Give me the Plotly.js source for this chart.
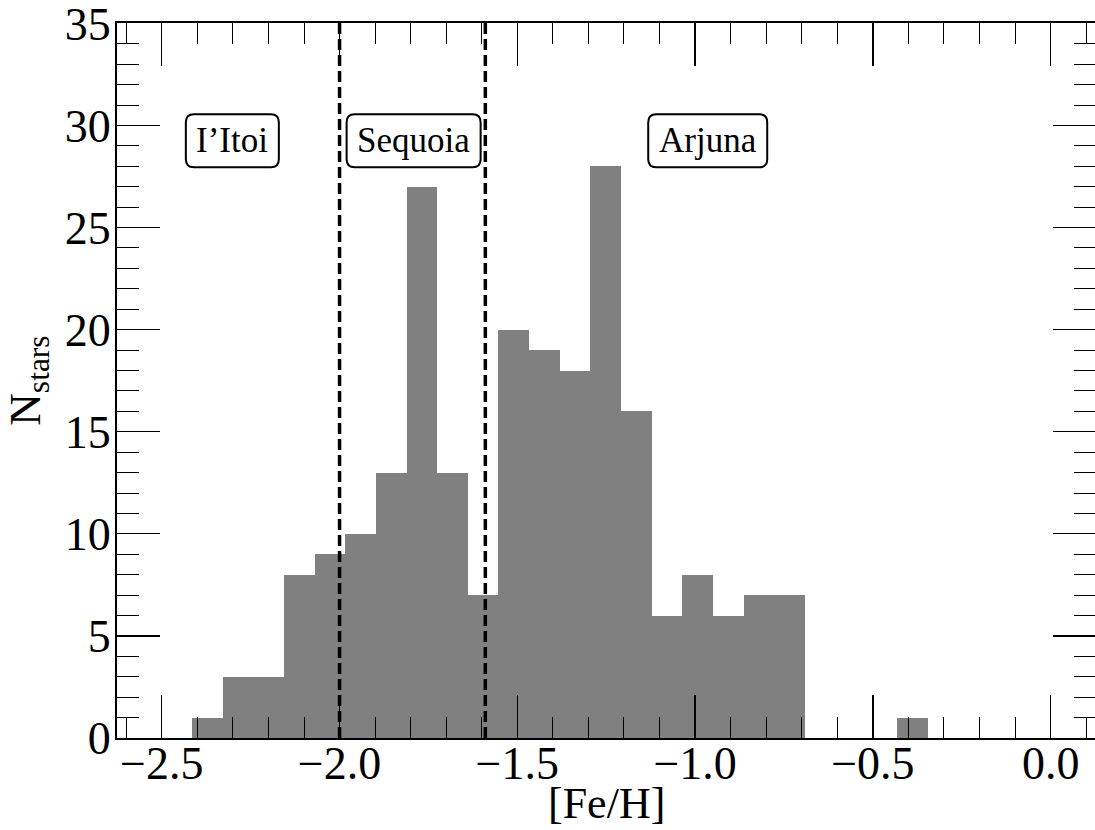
<!DOCTYPE html>
<html>
<head>
<meta charset="utf-8">
<script src="https://cdn.plot.ly/plotly-3.0.1.min.js"></script>
<style>
html, body { margin: 0; padding: 0; overflow: hidden; background: #fff; }
#chart { width: 1100px; height: 830px; }
</style>
</head>
<body>
<div id="chart"></div>
<script>
// Histogram of [Fe/H]
const binStart = -2.415;
const binWidth = 0.0862;
const counts = [1, 3, 3, 8, 9, 10, 13, 27, 13, 7, 20, 19, 18, 28, 16, 6, 8, 6, 7, 7, 0, 0, 0, 1];

// Boundaries between groups (dashed lines)
const boundaries = [-2.0, -1.59];

// Group labels
const groupLabels = ["I\u2019Itoi", "Sequoia", "Arjuna"];
const groupLabelX = [-2.3016, -1.7917, -0.9645];
const groupLabelY = [29.25, 29.25, 29.25];
const groupBoxWidthPx = [93, 134, 119];

const xTickVals = [-2.5, -2.0, -1.5, -1.0, -0.5, 0.0];
const xTickText = ["\u22122.5", "\u22122.0", "\u22121.5", "\u22121.0", "\u22120.5", "0.0"];
const yTickVals = [0, 5, 10, 15, 20, 25, 30, 35];

const centers = counts.map((_, i) => binStart + (i + 0.5) * binWidth);

const FONT = "Liberation Serif";

const trace = {
  type: "bar",
  x: centers,
  y: counts,
  width: counts.map(() => binWidth),
  marker: { color: "#808080", line: { width: 0 } },
  hoverinfo: "x+y"
};

function roundedRect(w, h, r) {
  const a = w / 2, b = h / 2;
  return `M ${-a + r},${-b} L ${a - r},${-b} Q ${a},${-b} ${a},${-b + r} ` +
         `L ${a},${b - r} Q ${a},${b} ${a - r},${b} L ${-a + r},${b} ` +
         `Q ${-a},${b} ${-a},${b - r} L ${-a},${-b + r} Q ${-a},${-b} ${-a + r},${-b} Z`;
}

const shapes = [];
boundaries.forEach(xv => {
  shapes.push({
    type: "line", xref: "x", yref: "paper", x0: xv, x1: xv, y0: 0, y1: 1,
    line: { color: "black", width: 3.5, dash: "11px,5px" }, layer: "above"
  });
});
groupLabels.forEach((t, i) => {
  shapes.push({
    type: "path", xref: "x", yref: "y",
    xsizemode: "pixel", ysizemode: "pixel",
    xanchor: groupLabelX[i], yanchor: groupLabelY[i],
    path: roundedRect(groupBoxWidthPx[i], 53, 8),
    fillcolor: "white", line: { color: "black", width: 2 }, layer: "above"
  });
});

const annotations = groupLabels.map((t, i) => ({
  x: groupLabelX[i], y: groupLabelY[i], xref: "x", yref: "y",
  text: t, showarrow: false, xanchor: "center", yanchor: "middle",
  font: { family: FONT, size: 35, color: "black" }
}));
annotations.push({
  x: 0.5, y: -0.056, xref: "paper", yref: "paper", xanchor: "center", yanchor: "top",
  text: "[Fe/H]", showarrow: false, borderpad: 0,
  font: { family: FONT, size: 44, color: "black" }
});

const axisCommon = {
  showgrid: false, zeroline: false, showline: true, linecolor: "black", linewidth: 2,
  mirror: "allticks", ticks: "inside", tickcolor: "black", tickwidth: 1.3, ticklen: 43,
  ticklabeloverflow: "allow",
  tickfont: { family: FONT, size: 46, color: "black" }
};

const layout = {
  width: 1100, height: 830,
  margin: { l: 117, r: 4, t: 23, b: 92 },
  paper_bgcolor: "white", plot_bgcolor: "white",
  font: { family: FONT, color: "black" },
  showlegend: false, bargap: 0,
  xaxis: Object.assign({}, axisCommon, {
    range: [-2.626, 0.1276],
    tickmode: "array", tickvals: xTickVals, ticktext: xTickText,
    ticklabelstandoff: -16,
    minor: { dtick: 0.1, tick0: 0, ticks: "inside", ticklen: 21, tickwidth: 1, tickcolor: "black" }
  }),
  yaxis: Object.assign({}, axisCommon, {
    range: [0, 35.02],
    tickmode: "array", tickvals: yTickVals,
    ticklabelstandoff: -5,
    minor: { dtick: 1, tick0: 0, ticks: "inside", ticklen: 22, tickwidth: 1, tickcolor: "black" },
    title: { text: "N<sub>stars</sub>", font: { family: FONT, size: 45, color: "black" } }
  }),
  shapes: shapes,
  annotations: annotations
};

Plotly.newPlot("chart", [trace], layout, { displayModeBar: false, staticPlot: true });
</script>
</body>
</html>
